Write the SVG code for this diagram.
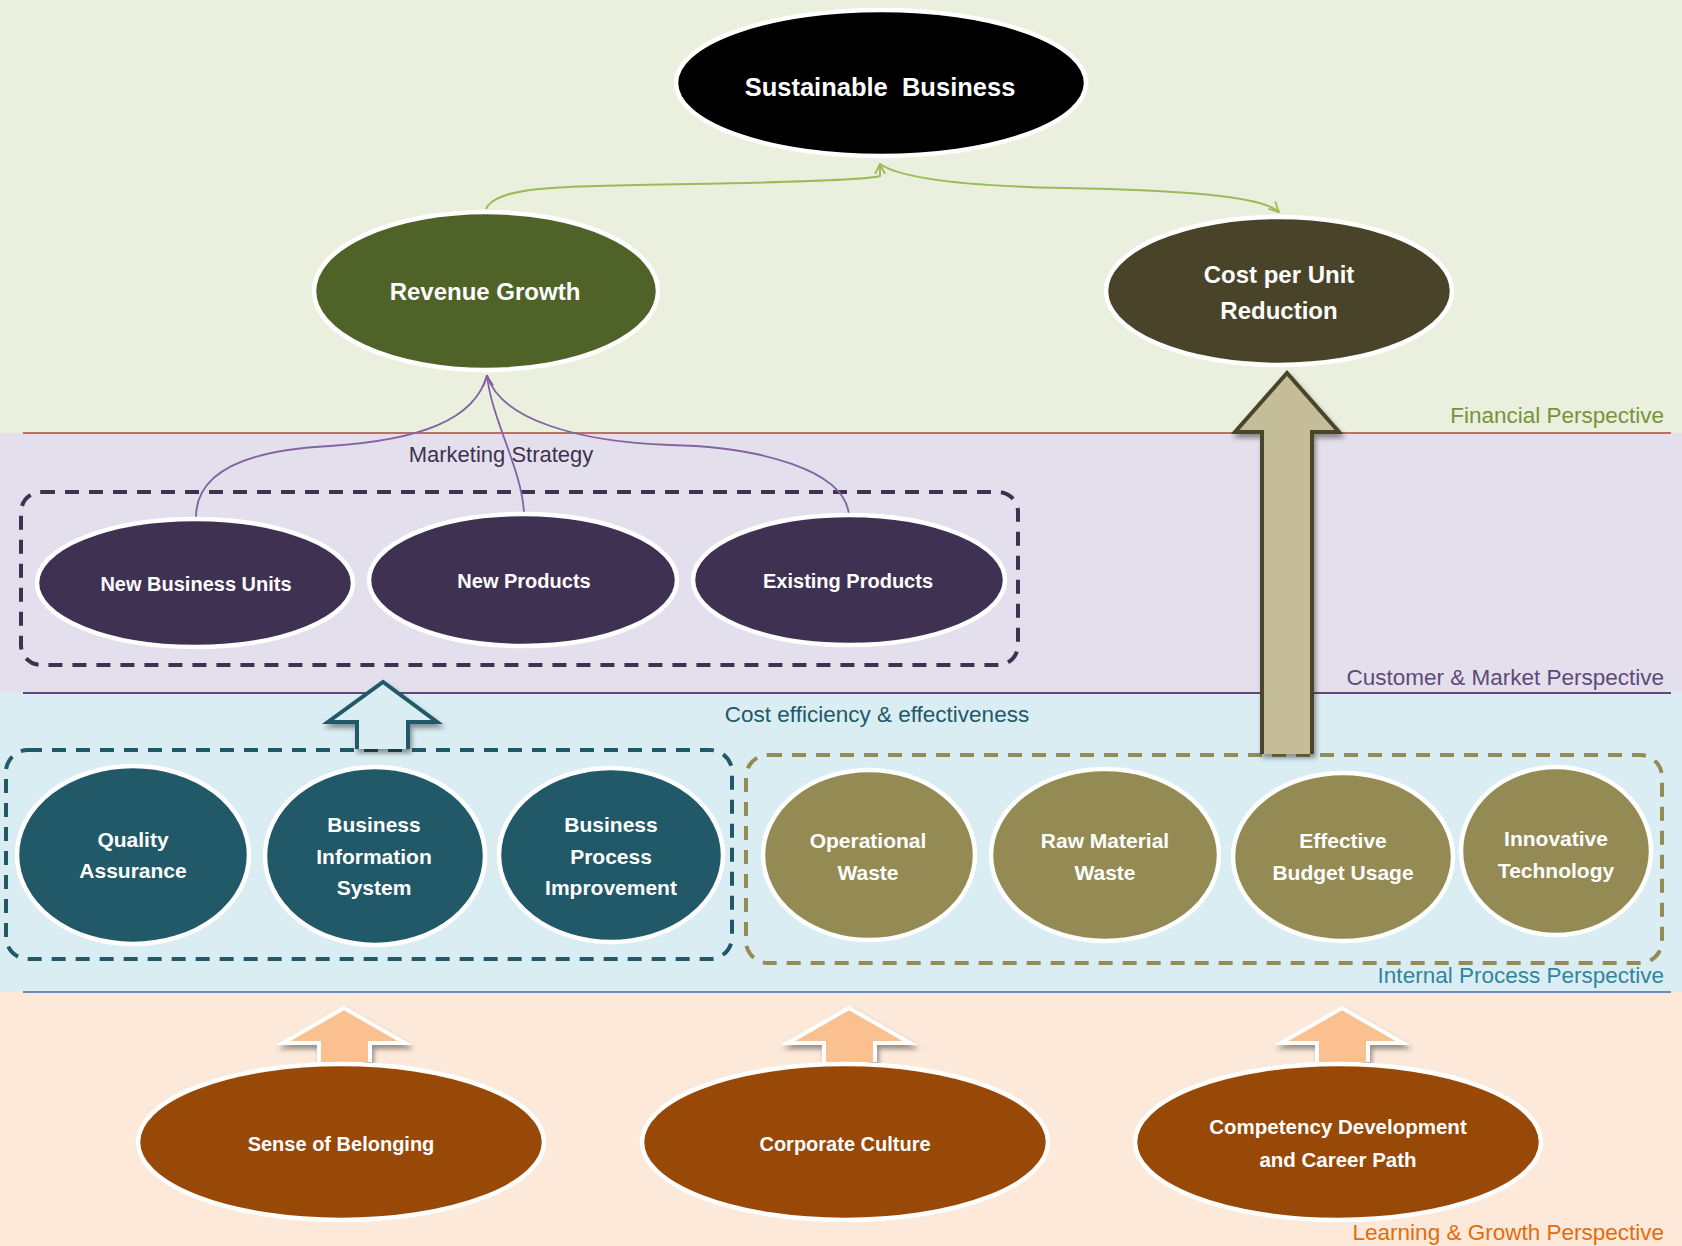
<svg xmlns="http://www.w3.org/2000/svg" width="1682" height="1246" viewBox="0 0 1682 1246">
  <style>
    .t { font-family: "Liberation Sans", Arial, sans-serif; }
    .nt { font-family: "Liberation Sans", Arial, sans-serif; font-weight: bold; fill: #ffffff; text-anchor: middle; }
    .pl { font-family: "Liberation Sans", Arial, sans-serif; font-size: 22.5px; text-anchor: end; }
    .node { stroke: #ffffff; stroke-width: 4.5; }
    .box { fill: none; stroke-width: 4; stroke-dasharray: 14 10; }
  </style>
  <defs>
    <filter id="sh" x="-40%" y="-40%" width="180%" height="180%">
      <feDropShadow dx="2" dy="4" stdDeviation="2.5" flood-color="#000000" flood-opacity="0.4"/>
    </filter>
    <marker id="ag" viewBox="0 0 12 12" refX="11" refY="6" markerWidth="12" markerHeight="12" markerUnits="userSpaceOnUse" orient="auto">
      <path d="M1,1 L11,6 L1,11" fill="none" stroke="#9BBB59" stroke-width="1.8"/>
    </marker>
    <marker id="ap" viewBox="0 0 12 12" refX="11" refY="6" markerWidth="12" markerHeight="12" markerUnits="userSpaceOnUse" orient="auto">
      <path d="M1,1 L11,6 L1,11" fill="none" stroke="#8064A2" stroke-width="1.8"/>
    </marker>
  </defs>

  <!-- perspective bands -->
  <g id="bands">
    <rect x="0" y="0" width="1682" height="433" fill="#EBEFDE"/>
    <rect x="0" y="433" width="1682" height="260" fill="#E4DFEC"/>
    <rect x="0" y="693" width="1682" height="299" fill="#DAEDF3"/>
    <rect x="0" y="992" width="1682" height="254" fill="#FCE9DA"/>
    <line x1="23" y1="433" x2="1671" y2="433" stroke="#B9706A" stroke-width="2"/>
    <line x1="23" y1="693" x2="1671" y2="693" stroke="#5F497A" stroke-width="2"/>
    <line x1="23" y1="992" x2="1671" y2="992" stroke="#6A8DBA" stroke-width="2"/>
  </g>

  <g id="labels">
    <text class="pl" x="1664" y="423" fill="#77933C">Financial Perspective</text>
    <text class="pl" x="1664" y="685" fill="#5F497A" font-size="23.2">Customer &amp; Market Perspective</text>
    <text class="pl" x="1664" y="983" fill="#31859C" font-size="22.8">Internal Process Perspective</text>
    <text class="pl" x="1664" y="1240" fill="#E46C0A" font-size="23">Learning &amp; Growth Perspective</text>
    <text class="t" x="501" y="462" font-size="22" text-anchor="middle" fill="#3F3151">Marketing Strategy</text>
    <text class="t" x="877" y="722" font-size="22.5" text-anchor="middle" fill="#215968">Cost efficiency &amp; effectiveness</text>
  </g>

  <g id="groups">
    <rect id="box-marketing" class="box" x="21" y="492" width="997" height="173" rx="20" stroke="#3F3151"/>
    <rect id="box-cost-efficiency" class="box" x="6" y="750" width="726" height="209" rx="22" stroke="#215968"/>
    <rect id="box-cost-reduction" class="box" x="746" y="755" width="916" height="208" rx="22" stroke="#948A54"/>
  </g>

  <g id="connectors">
    <path d="M486,209 C496,186 560,186 690,184 C800,182 868,180 880,176 L880,164" fill="none" stroke="#9BBB59" stroke-width="2" marker-end="url(#ag)"/>
    <path d="M880,164 C900,178 960,186 1065,188 C1180,190 1262,196 1279,212" fill="none" stroke="#9BBB59" stroke-width="2" marker-end="url(#ag)"/>
    <path d="M196,517 C196,470 250,450 330,446 C420,440 475,420 487,375" fill="none" stroke="#8064A2" stroke-width="1.8"/>
    <path d="M524,513 C522,470 492,420 487,376" fill="none" stroke="#8064A2" stroke-width="1.8" marker-end="url(#ap)"/>
    <path d="M849,515 C845,470 760,447 670,445 C580,442 500,420 487,375" fill="none" stroke="#8064A2" stroke-width="1.8"/>
    <path d="M1262,754 V432 H1235 L1287,373 L1339,432 H1312 V754" fill="#C4BD97" stroke="#4A452A" stroke-width="4" filter="url(#sh)"/>
    <path d="M357,749 V722 H328 L383,682 L437,722 H408 V749" fill="#DAEDF3" stroke="#215968" stroke-width="4" filter="url(#sh)"/>
    <path d="M319,1062 V1043 H283 L344,1008 L405,1043 H370 V1062" fill="#FAC090" stroke="#ffffff" stroke-width="4" filter="url(#sh)"/>
    <path d="M824,1062 V1043 H788 L849,1008 L910,1043 H875 V1062" fill="#FAC090" stroke="#ffffff" stroke-width="4" filter="url(#sh)"/>
    <path d="M1317,1062 V1043 H1281 L1342,1008 L1403,1043 H1368 V1062" fill="#FAC090" stroke="#ffffff" stroke-width="4" filter="url(#sh)"/>
  </g>

  <!-- Financial -->
  <g id="sustainable-business">
    <ellipse class="node" cx="881" cy="83" rx="205" ry="73" fill="#000000" stroke-width="5"/>
    <text class="nt" x="880" y="96" font-size="25.5" xml:space="preserve">Sustainable  Business</text>
  </g>
  <g id="revenue-growth">
    <ellipse class="node" cx="486" cy="291" rx="172" ry="79" fill="#4F6228" stroke-width="5"/>
    <text class="nt" x="485" y="300" font-size="24">Revenue Growth</text>
  </g>
  <g id="cost-per-unit-reduction">
    <ellipse class="node" cx="1279" cy="291" rx="173" ry="74" fill="#494429" stroke-width="5"/>
    <text class="nt" x="1279" y="283" font-size="24">Cost per Unit</text>
    <text class="nt" x="1279" y="319" font-size="24">Reduction</text>
  </g>

  <!-- Customer & Market -->
  <g id="new-business-units">
    <ellipse class="node" cx="195" cy="583" rx="158" ry="64" fill="#3F3151"/>
    <text class="nt" x="196" y="591" font-size="20">New Business Units</text>
  </g>
  <g id="new-products">
    <ellipse class="node" cx="523" cy="580" rx="154" ry="66" fill="#3F3151"/>
    <text class="nt" x="524" y="588" font-size="20">New Products</text>
  </g>
  <g id="existing-products">
    <ellipse class="node" cx="849" cy="580" rx="156" ry="65" fill="#3F3151"/>
    <text class="nt" x="848" y="588" font-size="20">Existing Products</text>
  </g>

  <!-- Internal Process -->
  <g id="quality-assurance">
    <ellipse class="node" cx="133" cy="855" rx="116" ry="89" fill="#215968"/>
    <text class="nt" x="133" y="847" font-size="21">Quality</text>
    <text class="nt" x="133" y="878" font-size="21">Assurance</text>
  </g>
  <g id="business-information-system">
    <ellipse class="node" cx="375" cy="856" rx="110" ry="89" fill="#215968"/>
    <text class="nt" x="374" y="832" font-size="21">Business</text>
    <text class="nt" x="374" y="864" font-size="21">Information</text>
    <text class="nt" x="374" y="895" font-size="21">System</text>
  </g>
  <g id="business-process-improvement">
    <ellipse class="node" cx="611" cy="855" rx="112" ry="87" fill="#215968"/>
    <text class="nt" x="611" y="832" font-size="21">Business</text>
    <text class="nt" x="611" y="864" font-size="21">Process</text>
    <text class="nt" x="611" y="895" font-size="21">Improvement</text>
  </g>
  <g id="operational-waste">
    <ellipse class="node" cx="869" cy="855" rx="106" ry="85" fill="#948A54"/>
    <text class="nt" x="868" y="848" font-size="21">Operational</text>
    <text class="nt" x="868" y="880" font-size="21">Waste</text>
  </g>
  <g id="raw-material-waste">
    <ellipse class="node" cx="1105" cy="855" rx="114" ry="86" fill="#948A54"/>
    <text class="nt" x="1105" y="848" font-size="21">Raw Material</text>
    <text class="nt" x="1105" y="880" font-size="21">Waste</text>
  </g>
  <g id="effective-budget-usage">
    <ellipse class="node" cx="1343" cy="857" rx="110" ry="84" fill="#948A54"/>
    <text class="nt" x="1343" y="848" font-size="21">Effective</text>
    <text class="nt" x="1343" y="880" font-size="21">Budget Usage</text>
  </g>
  <g id="innovative-technology">
    <ellipse class="node" cx="1556" cy="851" rx="95" ry="84" fill="#948A54"/>
    <text class="nt" x="1556" y="846" font-size="21">Innovative</text>
    <text class="nt" x="1556" y="878" font-size="21">Technology</text>
  </g>

  <!-- Learning & Growth -->
  <g id="sense-of-belonging">
    <ellipse class="node" cx="341" cy="1142" rx="203" ry="78" fill="#984807" stroke-width="5"/>
    <text class="nt" x="341" y="1151" font-size="20">Sense of Belonging</text>
  </g>
  <g id="corporate-culture">
    <ellipse class="node" cx="845" cy="1142" rx="203" ry="78" fill="#984807" stroke-width="5"/>
    <text class="nt" x="845" y="1151" font-size="20">Corporate Culture</text>
  </g>
  <g id="competency-development">
    <ellipse class="node" cx="1338" cy="1142" rx="203" ry="78" fill="#984807" stroke-width="5"/>
    <text class="nt" x="1338" y="1134" font-size="20.5">Competency Development</text>
    <text class="nt" x="1338" y="1167" font-size="20.5">and Career Path</text>
  </g>
</svg>
